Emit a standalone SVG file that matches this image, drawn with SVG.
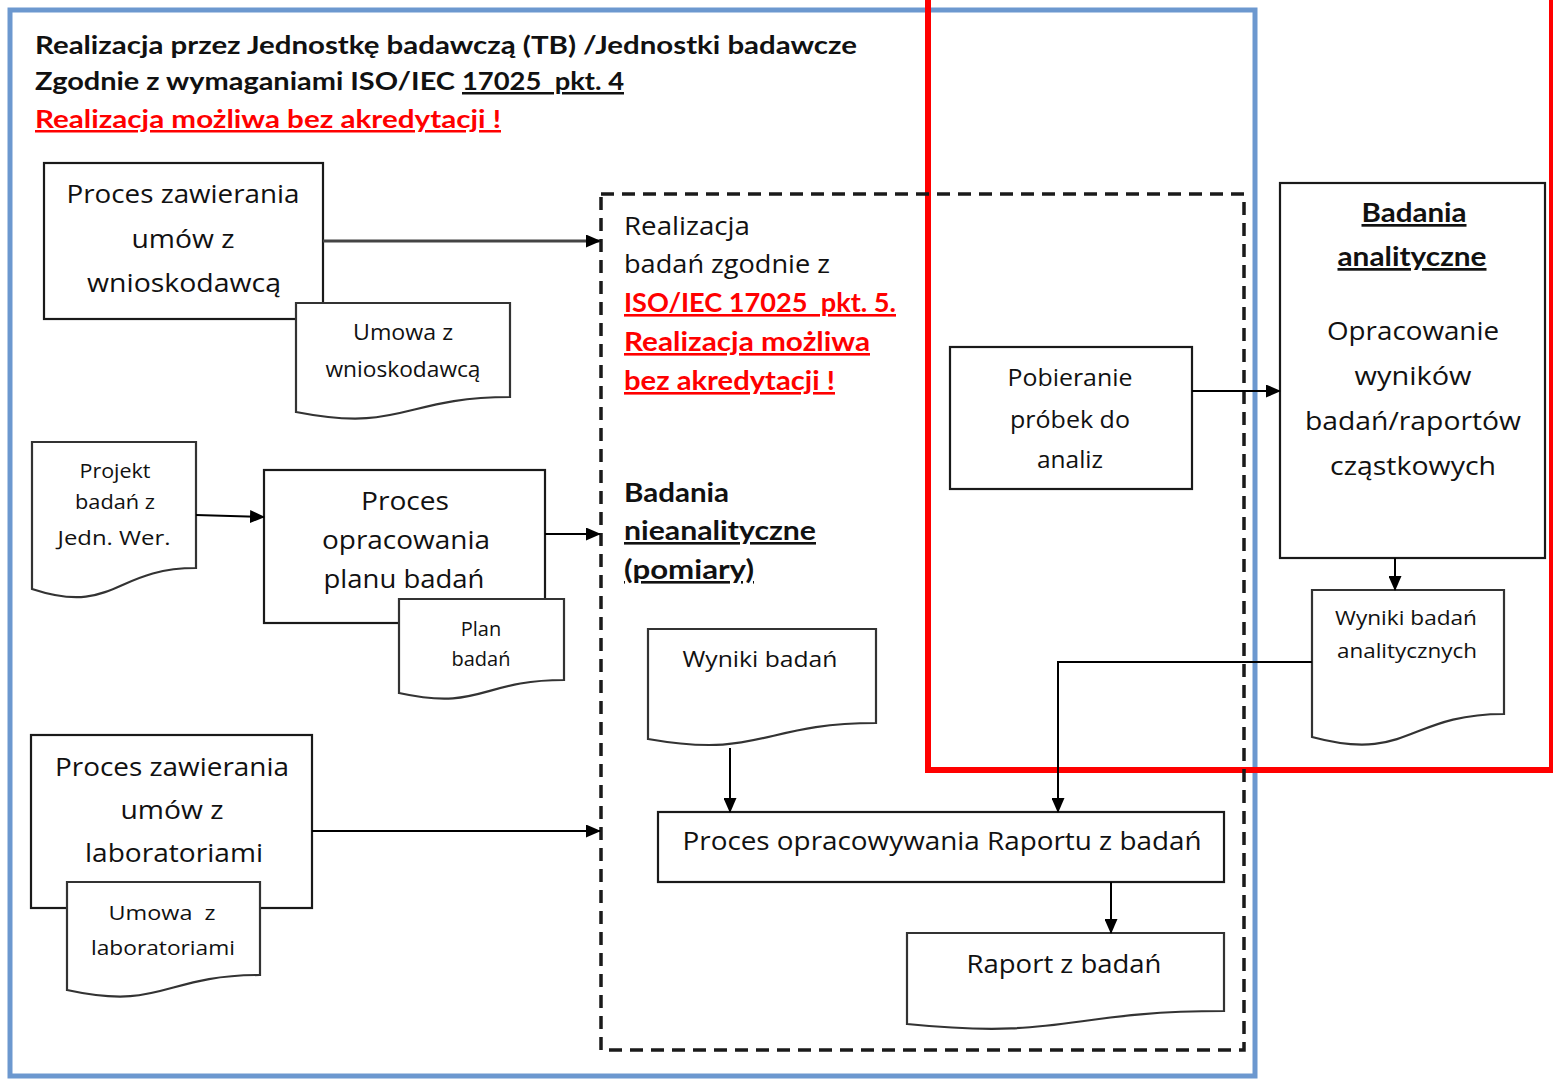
<svg xmlns="http://www.w3.org/2000/svg" width="1553" height="1080" viewBox="0 0 1553 1080">
<defs>
<marker id="ah" markerUnits="userSpaceOnUse" markerWidth="15" markerHeight="13" refX="14" refY="6.5" orient="auto">
<path d="M0,0 L15,6.5 L0,13 Z" fill="#000"/>
</marker>
<style>
.box{fill:#fff;stroke:#1a1a1a;stroke-width:2.2}
.doc{fill:#fff;stroke:#333;stroke-width:2.2}
.seg{font-family:"Open Sans","Noto Sans","DejaVu Sans",sans-serif;fill:#111}
.cal{font-family:Lato,"Liberation Sans",sans-serif;fill:#111}
.b{font-weight:bold}
.red{fill:#ff0000}
.u{text-decoration:underline}
.conn{fill:none;stroke:#000;stroke-width:2}
</style>
</defs>
<rect width="1553" height="1080" fill="#fff"/>
<g id="frames">
<rect x="10" y="10" width="1245" height="1066" fill="none" stroke="#6c98cf" stroke-width="5"/>
<rect x="928" y="-10" width="624" height="780" fill="none" stroke="#ff0000" stroke-width="6"/>
<rect x="601" y="194" width="643" height="856" fill="none" stroke="#1a1a1a" stroke-width="3.5" stroke-dasharray="13 8"/>
</g>
<g id="header">
<text class="cal b" x="35" y="54" font-size="25" textLength="822" lengthAdjust="spacingAndGlyphs">Realizacja przez Jednostkę badawczą (TB) /Jednostki badawcze</text>
<text class="cal b" x="35" y="90" font-size="25" textLength="420" lengthAdjust="spacingAndGlyphs">Zgodnie z wymaganiami ISO/IEC</text>
<text class="cal b u" x="462" y="90" font-size="25" textLength="162" lengthAdjust="spacingAndGlyphs" xml:space="preserve">17025  pkt. 4</text>
<text class="cal b red u" x="35" y="128" font-size="25" textLength="466" lengthAdjust="spacingAndGlyphs">Realizacja możliwa bez akredytacji !</text>
</g>
<g id="realizacja-label">
<text class="seg" x="624" y="235" font-size="25" textLength="126" lengthAdjust="spacingAndGlyphs">Realizacja</text>
<text class="seg" x="624" y="273" font-size="25" textLength="206" lengthAdjust="spacingAndGlyphs">badań zgodnie z</text>
<text class="cal b red u" x="624" y="312" font-size="26" textLength="272" lengthAdjust="spacingAndGlyphs" xml:space="preserve">ISO/IEC 17025  pkt. 5.</text>
<text class="cal b red u" x="624" y="351" font-size="26" textLength="246" lengthAdjust="spacingAndGlyphs">Realizacja możliwa</text>
<text class="cal b red u" x="624" y="390" font-size="26" textLength="211" lengthAdjust="spacingAndGlyphs">bez akredytacji !</text>
</g>
<g id="nieanalityczne-label">
<text class="cal b" x="624" y="502" font-size="26" textLength="105" lengthAdjust="spacingAndGlyphs">Badania</text>
<text class="cal b u" x="624" y="540" font-size="26" textLength="192" lengthAdjust="spacingAndGlyphs">nieanalityczne</text>
<text class="cal b u" x="624" y="579" font-size="26" textLength="130" lengthAdjust="spacingAndGlyphs">(pomiary)</text>
</g>
<g id="proc-wnioskodawca">
<rect class="box" x="44" y="163" width="279" height="156"/>
<text class="seg" x="183" y="203" font-size="25" text-anchor="middle" textLength="233" lengthAdjust="spacingAndGlyphs">Proces zawierania</text>
<text class="seg" x="183" y="248" font-size="25" text-anchor="middle" textLength="103" lengthAdjust="spacingAndGlyphs">umów z</text>
<text class="seg" x="184" y="292" font-size="25" text-anchor="middle" textLength="194" lengthAdjust="spacingAndGlyphs">wnioskodawcą</text>
</g>
<g id="doc-umowa-wnioskodawca">
<path class="doc" d="M296,303 H510 V397 C403,397 403,433 296,412 Z"/>
<text class="seg" x="403" y="340" font-size="21" text-anchor="middle" textLength="100" lengthAdjust="spacingAndGlyphs">Umowa z</text>
<text class="seg" x="403" y="377" font-size="21" text-anchor="middle" textLength="155" lengthAdjust="spacingAndGlyphs">wnioskodawcą</text>
</g>
<g id="doc-projekt">
<path class="doc" d="M32,442 H196 V568 C114,568 114,616 32,589 Z"/>
<text class="seg" x="115" y="478" font-size="20" text-anchor="middle" textLength="71" lengthAdjust="spacingAndGlyphs">Projekt</text>
<text class="seg" x="115" y="509" font-size="20" text-anchor="middle" textLength="80" lengthAdjust="spacingAndGlyphs">badań z</text>
<text class="seg" x="114" y="545" font-size="20" text-anchor="middle" textLength="113" lengthAdjust="spacingAndGlyphs">Jedn. Wer.</text>
</g>
<g id="proc-plan">
<rect class="box" x="264" y="470" width="281" height="153"/>
<text class="seg" x="405" y="510" font-size="25" text-anchor="middle" textLength="88" lengthAdjust="spacingAndGlyphs">Proces</text>
<text class="seg" x="406" y="549" font-size="25" text-anchor="middle" textLength="168" lengthAdjust="spacingAndGlyphs">opracowania</text>
<text class="seg" x="404" y="588" font-size="25" text-anchor="middle" textLength="161" lengthAdjust="spacingAndGlyphs">planu badań</text>
</g>
<g id="doc-plan">
<path class="doc" d="M399,599 H564 V680 C481,680 481,711 399,693 Z"/>
<text class="seg" x="481" y="636" font-size="20" text-anchor="middle">Plan</text>
<text class="seg" x="481" y="666" font-size="20" text-anchor="middle">badań</text>
</g>
<g id="proc-laboratoria">
<rect class="box" x="31" y="735" width="281" height="173"/>
<text class="seg" x="172" y="776" font-size="25" text-anchor="middle" textLength="234" lengthAdjust="spacingAndGlyphs">Proces zawierania</text>
<text class="seg" x="172" y="819" font-size="25" text-anchor="middle" textLength="103" lengthAdjust="spacingAndGlyphs">umów z</text>
<text class="seg" x="174" y="862" font-size="25" text-anchor="middle" textLength="178" lengthAdjust="spacingAndGlyphs">laboratoriami</text>
</g>
<g id="doc-umowa-laboratoria">
<path class="doc" d="M67,882 H260 V975 C163,975 163,1011 67,990 Z"/>
<text class="seg" x="162" y="920" font-size="20" text-anchor="middle" xml:space="preserve" textLength="107" lengthAdjust="spacingAndGlyphs">Umowa  z</text>
<text class="seg" x="163" y="955" font-size="20" text-anchor="middle" textLength="144" lengthAdjust="spacingAndGlyphs">laboratoriami</text>
</g>
<g id="proc-pobieranie">
<rect class="box" x="950" y="347" width="242" height="142"/>
<text class="seg" x="1070" y="386" font-size="23" text-anchor="middle" textLength="125" lengthAdjust="spacingAndGlyphs">Pobieranie</text>
<text class="seg" x="1070" y="428" font-size="23" text-anchor="middle" textLength="120" lengthAdjust="spacingAndGlyphs">próbek do</text>
<text class="seg" x="1070" y="468" font-size="23" text-anchor="middle" textLength="66" lengthAdjust="spacingAndGlyphs">analiz</text>
</g>
<g id="proc-analityczne">
<rect class="box" x="1280" y="183" width="265" height="375"/>
<text class="cal b u" x="1414" y="222" font-size="27" text-anchor="middle" textLength="105" lengthAdjust="spacingAndGlyphs">Badania</text>
<text class="cal b u" x="1412" y="266" font-size="27" text-anchor="middle" textLength="149" lengthAdjust="spacingAndGlyphs">analityczne</text>
<text class="seg" x="1413" y="340" font-size="25" text-anchor="middle" textLength="172" lengthAdjust="spacingAndGlyphs">Opracowanie</text>
<text class="seg" x="1413" y="385" font-size="25" text-anchor="middle" textLength="117" lengthAdjust="spacingAndGlyphs">wyników</text>
<text class="seg" x="1413" y="430" font-size="25" text-anchor="middle" textLength="216" lengthAdjust="spacingAndGlyphs">badań/raportów</text>
<text class="seg" x="1413" y="475" font-size="25" text-anchor="middle" textLength="166" lengthAdjust="spacingAndGlyphs">cząstkowych</text>
</g>
<g id="doc-wyniki-analityczne">
<path class="doc" d="M1312,590 H1504 V714 C1408,714 1408,763 1312,737 Z"/>
<text class="seg" x="1406" y="625" font-size="20" text-anchor="middle" textLength="142" lengthAdjust="spacingAndGlyphs">Wyniki badań</text>
<text class="seg" x="1407" y="658" font-size="20" text-anchor="middle" textLength="140" lengthAdjust="spacingAndGlyphs">analitycznych</text>
</g>
<g id="doc-wyniki">
<path class="doc" d="M648,629 H876 V723 C762,723 762,759 648,739 Z"/>
<text class="seg" x="760" y="667" font-size="22" text-anchor="middle" textLength="155" lengthAdjust="spacingAndGlyphs">Wyniki badań</text>
</g>
<g id="proc-raport">
<rect class="box" x="658" y="812" width="566" height="70"/>
<text class="seg" x="942" y="850" font-size="25" text-anchor="middle" textLength="519" lengthAdjust="spacingAndGlyphs">Proces opracowywania Raportu z badań</text>
</g>
<g id="doc-raport">
<path class="doc" d="M907,933 H1224 V1011 C1066,1011 1066,1040 907,1024 Z"/>
<text class="seg" x="1064" y="973" font-size="25" text-anchor="middle" textLength="195" lengthAdjust="spacingAndGlyphs">Raport z badań</text>
</g>
<g id="connectors">
<line class="conn" x1="323" y1="241" x2="600" y2="241" style="stroke:#444;stroke-width:2.8" marker-end="url(#ah)"/>
<line class="conn" x1="196" y1="515" x2="264" y2="517" marker-end="url(#ah)"/>
<line class="conn" x1="545" y1="534" x2="600" y2="534" marker-end="url(#ah)"/>
<line class="conn" x1="312" y1="831" x2="600" y2="831" marker-end="url(#ah)"/>
<line class="conn" x1="1192" y1="391" x2="1280" y2="391" marker-end="url(#ah)"/>
<line class="conn" x1="1395" y1="558" x2="1395" y2="590" marker-end="url(#ah)"/>
<polyline class="conn" points="1312,662 1058,662 1058,812" marker-end="url(#ah)"/>
<line class="conn" x1="730" y1="748" x2="730" y2="812" marker-end="url(#ah)"/>
<line class="conn" x1="1111" y1="882" x2="1111" y2="933" marker-end="url(#ah)"/>
</g>
</svg>
